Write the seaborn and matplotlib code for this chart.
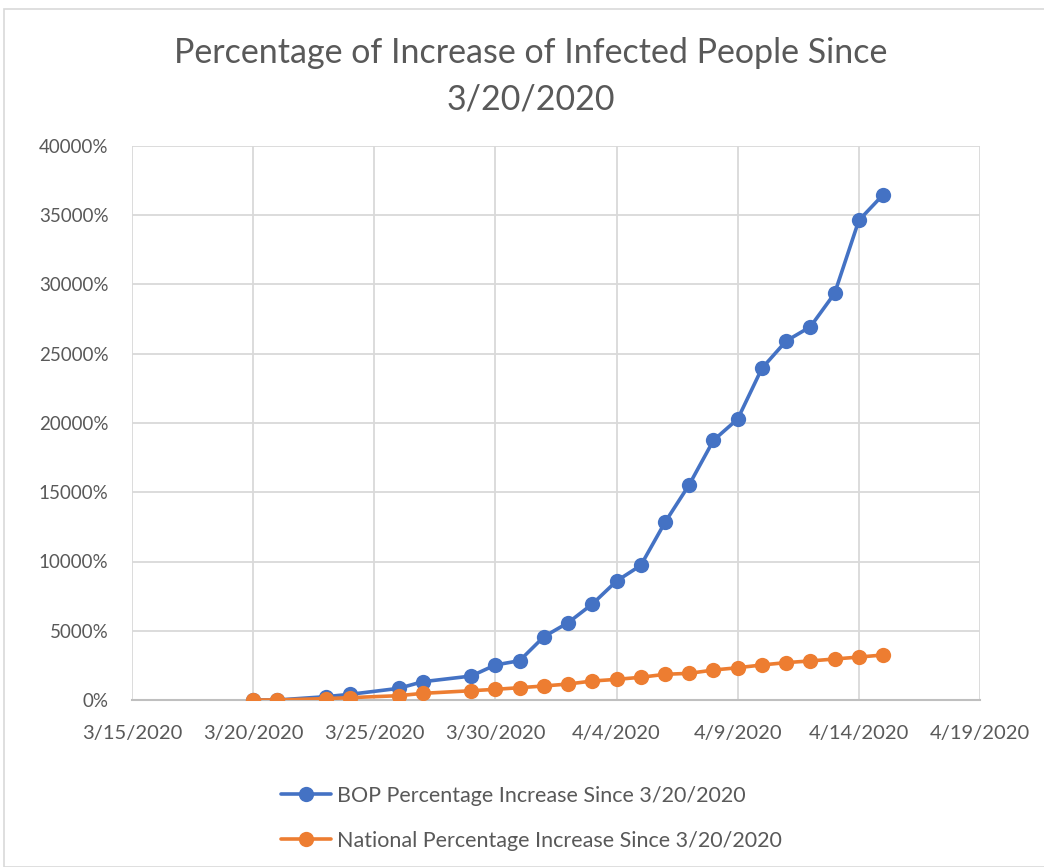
import matplotlib
matplotlib.use("Agg")
import matplotlib.pyplot as plt
import matplotlib.dates as mdates
import matplotlib.ticker as mticker
from matplotlib.patches import Rectangle
import pandas as pd
import seaborn as sns

# ───────────────────────── data ──────────────────────────
dates = (
    ["2020-03-20", "2020-03-21", "2020-03-23", "2020-03-24", "2020-03-26",
     "2020-03-27", "2020-03-29", "2020-03-30", "2020-03-31"]
    + [f"2020-04-{d:02d}" for d in range(1, 16)]
)
bop_pct = [0, 0, 240, 410, 840, 1320, 1730, 2530, 2840,
           4570, 5580, 6930, 8590, 9720, 12830, 15550, 18750, 20290,
           23950, 25920, 26950, 29360, 34630, 36480]
national_pct = [0, 0, 100, 170, 310, 480, 670, 770, 890,
                1010, 1155, 1370, 1490, 1640, 1855, 1925, 2165, 2330,
                2530, 2700, 2820, 2960, 3100, 3250]

bop_label = "BOP Percentage Increase Since 3/20/2020"
nat_label = "National Percentage Increase Since 3/20/2020"
title = "Percentage of Increase of Infected People Since\n3/20/2020"
xticks = pd.date_range("2020-03-15", "2020-04-19", freq="5D")

df = pd.concat(
    [
        pd.DataFrame({"date": pd.to_datetime(dates), "pct": bop_pct, "series": bop_label}),
        pd.DataFrame({"date": pd.to_datetime(dates), "pct": national_pct, "series": nat_label}),
    ],
    ignore_index=True,
)

# ───────────────────────── style ─────────────────────────
sns.set_theme(style="white")
plt.rcParams["font.family"] = ["Lato", "DejaVu Sans"]
TEXT = "#595959"
GRID = "#D9D9D9"

fig = plt.figure(figsize=(10.44, 8.67), dpi=100)
ax = fig.add_axes([132 / 1044, 1 - 700 / 867, 848 / 1044, 554 / 867])

# chart frame
fig.patches.append(Rectangle((4 / 1044, 0), 1.2, 1 - 9 / 867, transform=fig.transFigure,
                             fill=False, edgecolor="#D9D9D9", linewidth=1.2))

sns.lineplot(
    data=df, x="date", y="pct", hue="series",
    palette={bop_label: "#4472C4", nat_label: "#ED7D31"},
    marker="o", markersize=11, markeredgewidth=0, linewidth=2.6,
    ax=ax, zorder=3,
)

ax.set_xlim(xticks[0], xticks[-1])
ax.set_ylim(0, 40000)
ax.set_xticks(xticks)
ax.xaxis.set_major_formatter(mticker.FuncFormatter(
    lambda v, _: f"{mdates.num2date(v).month}/{mdates.num2date(v).day}/{mdates.num2date(v).year}"))
ax.yaxis.set_major_locator(mticker.MultipleLocator(5000))
ax.yaxis.set_major_formatter(mticker.FuncFormatter(lambda v, _: f"{v:.0f}%"))

ax.grid(True, color=GRID, linewidth=1.3)
ax.set_axisbelow(True)
for side in ("top", "right", "left"):
    ax.spines[side].set_visible(False)
ax.spines["bottom"].set_color("#BFBFBF")
ax.spines["bottom"].set_linewidth(1.5)
ax.tick_params(axis="both", length=0, colors=TEXT)
ax.tick_params(axis="y", labelsize=13.5, pad=17)
ax.tick_params(axis="x", labelsize=14.5, pad=18)
ax.set_xlabel("")
ax.set_ylabel("")

fig.suptitle(title, x=531 / 1044, y=1 - 37 / 867, fontsize=24.5, color=TEXT, linespacing=1.55)

leg = ax.legend(loc="upper left", bbox_to_anchor=((262 - 132) / 848, -0.12), frameon=False,
                fontsize=15.5, labelcolor=TEXT, handlelength=2.3, handletextpad=0.3,
                labelspacing=1.15)

fig.savefig("out.png", dpi=100)
